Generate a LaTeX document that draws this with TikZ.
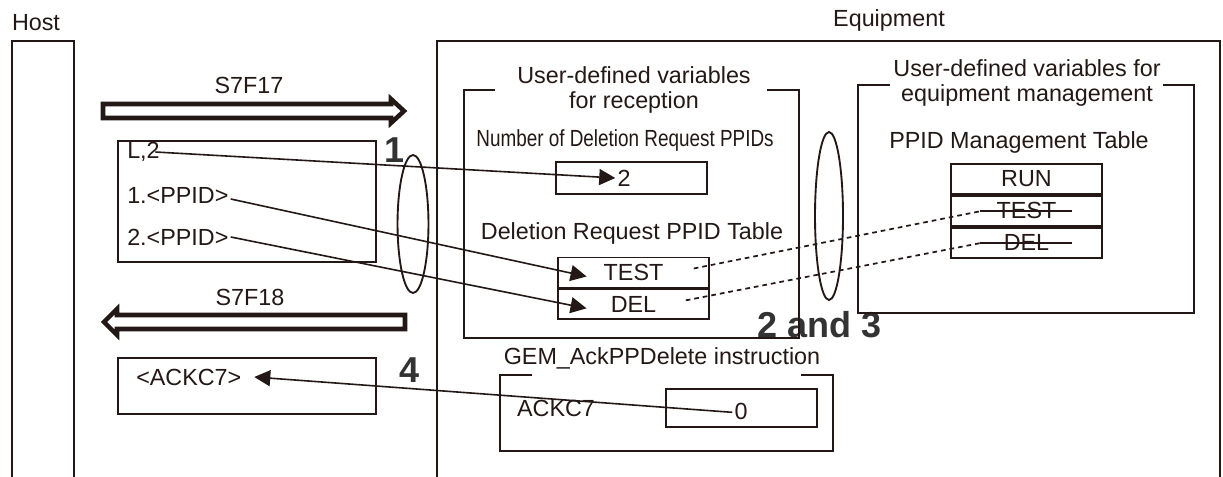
\documentclass[tikz,border=0pt]{standalone}
\usepackage{fontspec}
\setmainfont{Liberation Sans}
\newfontfamily\narrowfont[FakeStretch=0.81]{Liberation Sans}
\usepackage{xcolor}
\usepackage{tikz}
\usetikzlibrary{positioning,arrows.meta}
\definecolor{ink}{HTML}{231815}

\begin{document}
\begin{tikzpicture}[x=0.75pt,y=-0.75pt,>={Triangle[length=12pt,width=12pt]},
                    line width=1.4pt,color=ink,font=\fontsize{17.5}{18.75}\selectfont,
                    cell/.style={draw,minimum width=113pt,minimum height=22.5pt,inner sep=0pt},
                    item/.style={anchor=west,inner sep=1pt},
                    msg/.style={draw,line width=3.4pt,line join=miter},
                    stepno/.style={font=\fontsize{27}{27}\bfseries,text=black!80},
                    link/.style={->,line width=1.2pt},
                    dashed link/.style={dash pattern=on 3.5pt off 3pt,line width=1.3pt}]

\useasboundingbox (0,0) rectangle (1223,477);

\node (host) at (36,23) {Host};
\node (equip) at (889,20) {Equipment};
\draw (12,477) |- (74,41) -- (74,477);
\draw (437,477) |- (1220,41) -- (1220,477);

\draw[msg] (103,104) -- (391,104) -- (391,99) -- (404,111) -- (391,123) -- (391,118) -- (103,118) -- cycle;
\node (s7f17) at (249,85) {S7F17};
\node[draw,minimum width=193.5pt,minimum height=90.75pt] (req) at (247,201.5) {};
\node[item] (l2) at (125,152) {L,2};
\node[item] (p1) at (125,195) {1.<PPID>};
\node[item] (p2) at (125,237) {2.<PPID>};

\draw[msg] (405,315) -- (117,315) -- (117,309) -- (104,322) -- (117,335) -- (117,329) -- (405,329) -- cycle;
\node (s7f18) at (250,297) {S7F18};
\node[draw,minimum width=193.5pt,minimum height=42pt] (ackbox) at (247,386) {};
\node[item] (ack) at (134,377) {<ACKC7>};

\node[stepno] (n1) at (395,150) {1};
\node[stepno] (n4) at (410,370) {4};
\node[stepno] (n23) at (820,325) {2 and 3};
\draw (413,224) ellipse [x radius=11.6pt,y radius=51.75pt];
\draw (829,216) ellipse [x radius=10.5pt,y radius=63pt];

\draw (495,90) -| (464,338) -| (799,90) -- (767,90);
\node[align=center] (recvtitle) at (634,90) {User-defined variables\\for reception};
\node[font=\narrowfont\fontsize{17.5}{18.75}\selectfont] (cntlabel) at (625,140) {Number of Deletion Request PPIDs};
\node[cell,minimum height=24pt] (cntbox) at (631.5,178) {};
\node[inner sep=1pt] (cnt) at (624,178) {2};
\node (reqtab) at (632,233) {Deletion Request PPID Table};
\node[cell] (dtest) at (633.5,272.5) {TEST};
\node[cell,below=0pt of dtest] (ddel) {DEL};

\draw (890,85) -| (858,313) -| (1194,85) -- (1163,85);
\node[align=center] (mgmttitle) at (1027,82.5) {User-defined variables for\\equipment management};
\node (mgmttab) at (1019,142) {PPID Management Table};
\node[cell] (mrun) at (1026.5,179) {RUN};
\node[cell,below=0pt of mrun] (mtest) {TEST};
\node[cell,below=0pt of mtest] (mdel) {DEL};
\draw ([xshift=22pt]mtest.west) -- ([xshift=-23pt]mtest.east);
\draw ([xshift=22pt]mdel.west) -- ([xshift=-23pt]mdel.east);

\draw (532,375) -| (500,451) -| (833,375) -- (801,375);
\node (gem) at (662,358) {GEM\_AckPPDelete instruction};
\node (ackc7) at (556,408) {ACKC7};
\node[cell,minimum height=28.5pt] (zerobox) at (741.5,408) {};
\node[inner sep=1pt] (zero) at (741,411) {0};

\draw[link] ([xshift=-5pt]l2.east) -- (cnt.west);
\draw[link] ([yshift=-3pt]p1.east) -- ([xshift=22pt,yshift=-3pt]dtest.west);
\draw[link] (p2.east) -- ([xshift=22pt,yshift=-3pt]ddel.west);
\draw[link] ([yshift=-1pt]zero.west) -- ([xshift=8pt]ack.east);
\draw[dashed link] ([xshift=-12pt,yshift=3pt]dtest.east) -- ([xshift=24pt]mtest.west);
\draw[dashed link] ([xshift=-18pt,yshift=3pt]ddel.east) -- ([xshift=24pt]mdel.west);

\end{tikzpicture}
\end{document}
